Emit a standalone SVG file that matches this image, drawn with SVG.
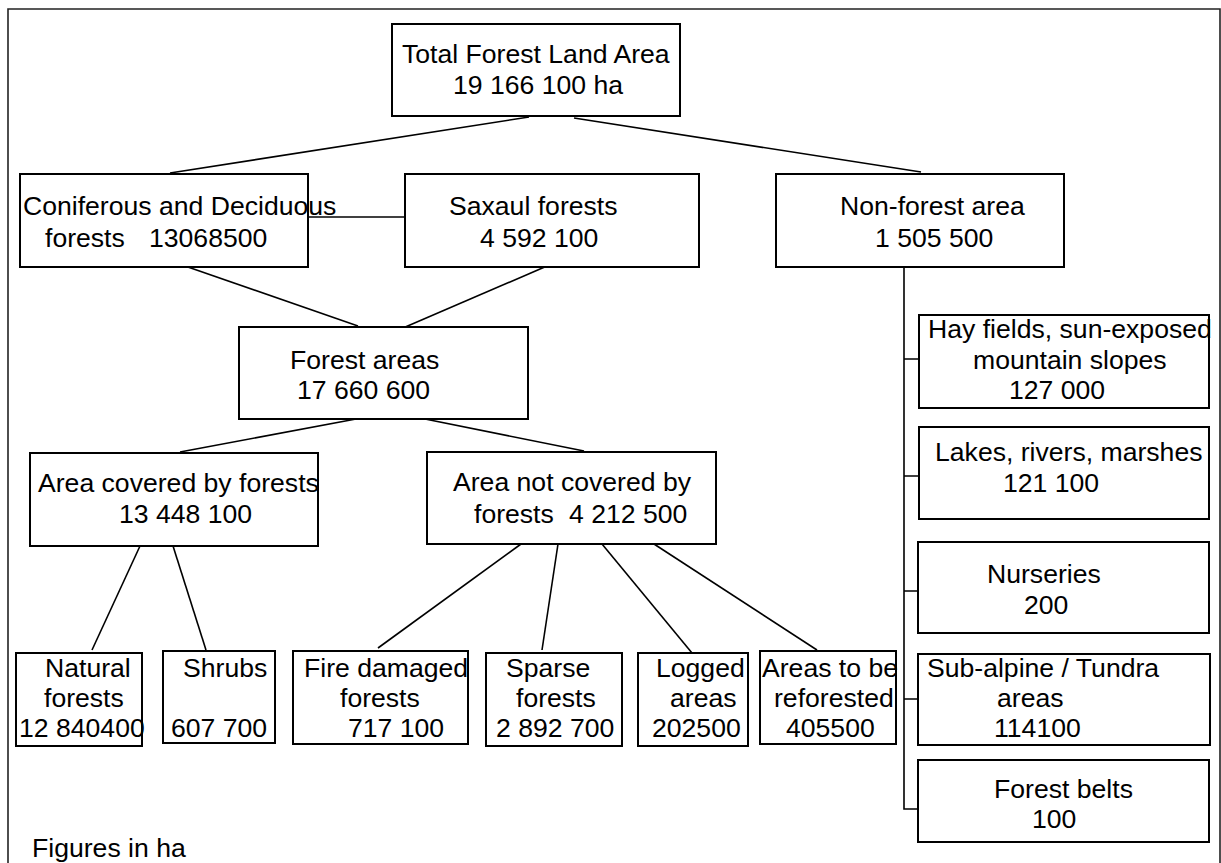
<svg xmlns="http://www.w3.org/2000/svg" width="1221" height="863" viewBox="0 0 1221 863">
<style>
.b{fill:#fff;stroke:#000;stroke-width:2}
.t{font-family:"Liberation Sans",Arial,sans-serif;font-size:26.6px;fill:#000}
.c{stroke:#000;stroke-width:1.6;fill:none}
</style>
<rect x="0" y="0" width="1221" height="863" fill="#fff"/>
<path d="M8 863 V9 H1220 V863" fill="none" stroke="#222" stroke-width="1.6"/>
<g id="connectors">
<line class="c" x1="529" y1="117" x2="170" y2="173"/>
<line class="c" x1="574" y1="118" x2="921" y2="172"/>
<line class="c" x1="308" y1="217" x2="408" y2="217"/>
<line class="c" x1="185" y1="266" x2="358" y2="326"/>
<line class="c" x1="547" y1="266" x2="403" y2="328"/>
<line class="c" x1="356" y1="419" x2="180" y2="452"/>
<line class="c" x1="425" y1="419" x2="584" y2="451"/>
<line class="c" x1="140" y1="546" x2="92" y2="650"/>
<line class="c" x1="173" y1="546" x2="206" y2="650"/>
<line class="c" x1="521" y1="544" x2="378" y2="648"/>
<line class="c" x1="558" y1="544" x2="542" y2="650"/>
<line class="c" x1="602" y1="544" x2="692" y2="653"/>
<line class="c" x1="654" y1="544" x2="817" y2="650"/>
<path class="c" d="M904 267 V809 H919 M904 359 H919 M904 476 H919 M904 591 H919 M904 699 H919"/>
</g>
<g id="total"><rect class="b" x="392" y="24" width="288" height="92"/>
<text class="t" x="402" y="63">Total Forest Land Area</text><text class="t" x="453" y="94">19 166 100 ha</text></g>
<g id="coniferous"><rect class="b" x="20" y="174" width="288" height="93"/>
<text class="t" x="23" y="215">Coniferous and Deciduous</text><text class="t" x="45" y="247">forests<tspan x="149">13068500</tspan></text></g>
<g id="saxaul"><rect class="b" x="405" y="174" width="294" height="93"/>
<text class="t" x="449" y="215">Saxaul forests</text><text class="t" x="480" y="247">4 592 100</text></g>
<g id="nonforest"><rect class="b" x="776" y="174" width="288" height="93"/>
<text class="t" x="840" y="215">Non-forest area</text><text class="t" x="875" y="247">1 505 500</text></g>
<g id="forestareas"><rect class="b" x="239" y="327" width="289" height="92"/>
<text class="t" x="290" y="369">Forest areas</text><text class="t" x="297" y="399">17 660 600</text></g>
<g id="covered"><rect class="b" x="30" y="453" width="288" height="93"/>
<text class="t" x="38" y="492">Area covered by forests</text><text class="t" x="119" y="523">13 448 100</text></g>
<g id="notcovered"><rect class="b" x="427" y="452" width="289" height="92"/>
<text class="t" x="453" y="491">Area not covered by</text><text class="t" x="474" y="523">forests<tspan x="569">4 212 500</tspan></text></g>
<g id="natural"><rect class="b" x="16" y="653" width="126" height="93"/>
<text class="t" x="45" y="677">Natural</text><text class="t" x="44" y="707">forests</text><text class="t" x="19" y="737">12 840400</text></g>
<g id="shrubs"><rect class="b" x="163" y="651" width="112" height="92"/>
<text class="t" x="183" y="677">Shrubs</text><text class="t" x="171" y="737">607 700</text></g>
<g id="fire"><rect class="b" x="293" y="651" width="175" height="93"/>
<text class="t" x="304" y="677">Fire damaged</text><text class="t" x="340" y="707">forests</text><text class="t" x="348" y="737">717 100</text></g>
<g id="sparse"><rect class="b" x="486" y="653" width="136" height="93"/>
<text class="t" x="506" y="677">Sparse</text><text class="t" x="516" y="707">forests</text><text class="t" x="496" y="737">2 892 700</text></g>
<g id="logged"><rect class="b" x="638" y="653" width="110" height="93"/>
<text class="t" x="656" y="677">Logged</text><text class="t" x="670" y="707">areas</text><text class="t" x="652" y="737">202500</text></g>
<g id="reforest"><rect class="b" x="760" y="651" width="136" height="93"/>
<text class="t" x="762" y="677">Areas to be</text><text class="t" x="774" y="707">reforested</text><text class="t" x="786" y="737">405500</text></g>
<g id="hay"><rect class="b" x="919" y="315" width="290" height="93"/>
<text class="t" x="928" y="338">Hay fields, sun-exposed</text><text class="t" x="973" y="369">mountain slopes</text><text class="t" x="1009" y="399">127 000</text></g>
<g id="lakes"><rect class="b" x="919" y="427" width="290" height="92"/>
<text class="t" x="935" y="461">Lakes, rivers, marshes</text><text class="t" x="1003" y="492">121 100</text></g>
<g id="nurseries"><rect class="b" x="918" y="542" width="291" height="91"/>
<text class="t" x="987" y="583">Nurseries</text><text class="t" x="1024" y="614">200</text></g>
<g id="subalpine"><rect class="b" x="918" y="654" width="292" height="91"/>
<text class="t" x="927" y="677">Sub-alpine / Tundra</text><text class="t" x="997" y="707">areas</text><text class="t" x="994" y="737">114100</text></g>
<g id="belts"><rect class="b" x="918" y="760" width="291" height="82"/>
<text class="t" x="994" y="798">Forest belts</text><text class="t" x="1032" y="828">100</text></g>
<text class="t" x="32" y="857">Figures in ha</text>
</svg>
